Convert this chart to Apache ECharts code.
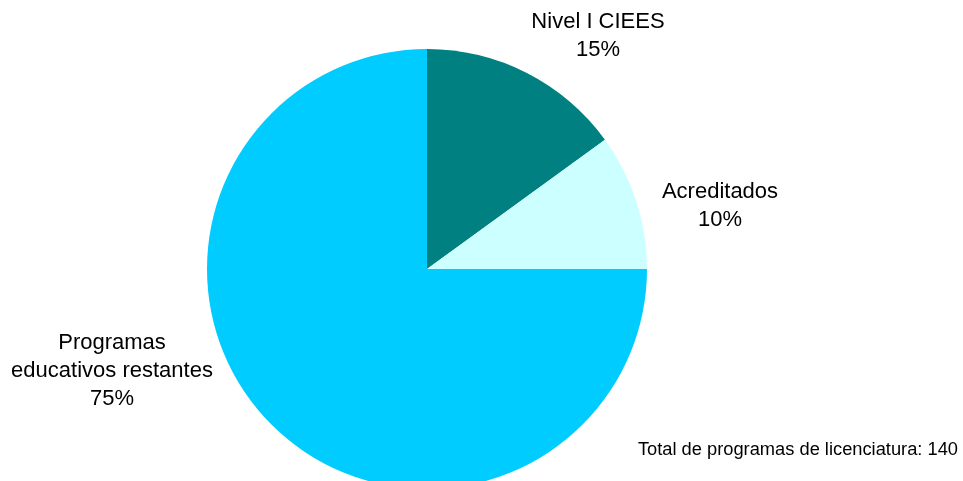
<!DOCTYPE html>
<html>
<head>
<meta charset="utf-8">
<script src="https://cdn.jsdelivr.net/npm/echarts@6/dist/echarts.min.js"></script>
<style>
  html, body { margin: 0; padding: 0; background: #fff; }
  #chart { width: 963px; height: 481px; }
</style>
</head>
<body>
<div id="chart"></div>
<script>
// Programas de licenciatura por nivel de calidad
const categories = ['Nivel I CIEES', 'Acreditados', 'Programas\neducativos restantes'];
const programCounts = [21, 14, 105];
const sliceColors = ['#008080', '#CCFFFF', '#00CCFF'];
const totalNote = 'Total de programas de licenciatura: 140';

// Where each slice's label block is centred
const labelAnchors = [[598, 36], [720, 206], [112, 371]];

const chart = echarts.init(document.getElementById('chart'), null, { renderer: 'canvas' });

chart.setOption({
  animation: false,
  backgroundColor: '#ffffff',
  graphic: [{
    type: 'text',
    right: 5,
    top: 441,
    style: {
      text: totalNote,
      fill: '#000',
      font: '18.3px "Liberation Sans", Arial, sans-serif'
    }
  }],
  series: [{
    type: 'pie',
    center: [427, 269],
    radius: [0, 220],
    startAngle: 90,
    clockwise: true,
    avoidLabelOverlap: false,
    silent: true,
    itemStyle: { borderWidth: 0 },
    label: {
      show: true,
      position: 'outside',
      formatter: '{b}\n{d}%',
      fontFamily: '"Liberation Sans", Arial, sans-serif',
      fontSize: 22,
      lineHeight: 28,
      color: '#000',
      align: 'center'
    },
    labelLine: { show: false },
    labelLayout: function (params) {
      const a = labelAnchors[params.dataIndex];
      return { x: a[0], y: a[1], align: 'center', verticalAlign: 'middle' };
    },
    data: categories.map((name, i) => ({
      name: name,
      value: programCounts[i],
      itemStyle: { color: sliceColors[i] }
    }))
  }]
});
</script>
</body>
</html>
